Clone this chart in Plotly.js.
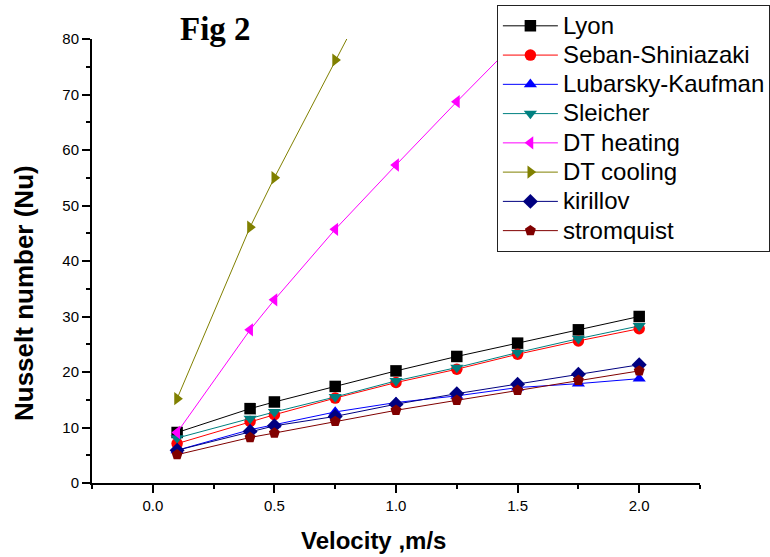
<!DOCTYPE html>
<html><head><meta charset="utf-8">
<script src="https://cdn.plot.ly/plotly-3.0.1.min.js"></script>
<style>
body{margin:0;background:#fff}#chart{width:770px;height:557px}
.legendtext{font-size:24px !important}
</style>
</head><body><div id="chart"></div>
<script>
const velocity = [0.1, 0.4, 0.5, 0.75, 1.0, 1.25, 1.5, 1.75, 2.0];
const lyon = [9.1, 13.4, 14.6, 17.4, 20.2, 22.8, 25.2, 27.6, 30.0];
const seban = [7.1, 11.1, 12.3, 15.3, 18.1, 20.5, 23.2, 25.6, 27.8];
const lubarsky = [5.9, 9.6, 10.5, 12.8, 14.5, 15.7, 17.2, 17.9, 18.8];
const sleicher = [8.1, 11.6, 12.8, 15.5, 18.4, 20.8, 23.5, 26.0, 28.3];
const dtHeating = [9.1, 27.6, 33.0, 45.7, 57.3, 68.7, 79.8, 91.0, 102.0];
const dtCooling = [15.2, 46.1, 55.0, 76.2, 97.0, 118.0, 139.0, 160.0, 181.0];
const kirillov = [5.9, 9.3, 10.3, 12.0, 14.2, 16.1, 17.8, 19.6, 21.3];
const stromquist = [5.1, 8.2, 9.0, 11.1, 13.1, 14.9, 16.7, 18.5, 20.2];

const seriesNames = ["Lyon","Seban-Shiniazaki","Lubarsky-Kaufman","Sleicher","DT heating","DT cooling","kirillov","stromquist"];
const seriesData = [lyon, seban, lubarsky, sleicher, dtHeating, dtCooling, kirillov, stromquist];
const colors = ["#000000","#ff0000","#0000ff","#008080","#ff00ff","#808000","#000080","#800000"];
const symbols = ["square","circle","triangle-up","triangle-down","triangle-left","triangle-right","diamond","pentagon"];

const traces = seriesNames.map((n,i)=>({
  x: velocity, y: seriesData[i], name: n, type: "scatter", mode: "lines+markers",
  line: {color: colors[i], width: 1},
  marker: {color: colors[i], symbol: symbols[i], size: 11.5, line: {width: 0}},
  cliponaxis: true
}));

const layout = {
  width: 770, height: 557,
  margin: {l: 92, r: 70, t: 39, b: 74, autoexpand: false},
  paper_bgcolor: "#fff", plot_bgcolor: "#fff",
  showlegend: true,
  font: {family: "Liberation Sans, Arial, sans-serif", color: "#000"},
  xaxis: {
    range: [-0.25, 2.25], tick0: 0, dtick: 0.5, tickformat: ".1f",
    showgrid: false, zeroline: false, showline: true, linecolor: "#000", linewidth: 2,
    ticks: "outside", ticklen: 8, tickwidth: 2, tickcolor: "#000",
    minor: {dtick: 0.25, ticks: "outside", ticklen: 4, tickwidth: 1.5, tickcolor: "#000"},
    tickfont: {size: 15}
  },
  yaxis: {
    range: [0, 80], dtick: 10,
    showgrid: false, zeroline: false, showline: true, linecolor: "#000", linewidth: 2,
    ticks: "outside", ticklen: 8, tickwidth: 2, tickcolor: "#000",
    minor: {dtick: 5, ticks: "outside", ticklen: 4, tickwidth: 1.5, tickcolor: "#000"},
    tickfont: {size: 15}
  },
  legend: {
    x: 0.6656, y: 1.0766, xanchor: "left", yanchor: "top",
    bgcolor: "#fff", bordercolor: "#222", borderwidth: 1.2,
    font: {size: 20.2, family: "Liberation Sans, Arial"},
    itemwidth: 55, tracegroupgap: 0
  },
  annotations: [
    {text: "<b>Fig 2</b>", xref: "paper", yref: "paper", x: 0.2028, y: 1.0,
     xanchor: "center", yanchor: "middle", yshift: 10, showarrow: false,
     font: {size: 33, family: "Liberation Serif, serif"}},
    {text: "<b>Velocity ,m/s</b>", xref: "paper", yref: "paper", x: 0.463, y: -0.1306,
     xanchor: "center", yanchor: "middle", showarrow: false,
     font: {size: 24, family: "Liberation Sans, Arial"}},
    {text: "<b>Nusselt number (Nu)</b>", xref: "paper", yref: "paper", x: -0.1127, y: 0.429,
     xanchor: "center", yanchor: "middle", textangle: -90, showarrow: false,
     font: {size: 26, family: "Liberation Sans, Arial"}}
  ]
};
Plotly.newPlot("chart", traces, layout, {displayModeBar: false});
</script></body></html>
